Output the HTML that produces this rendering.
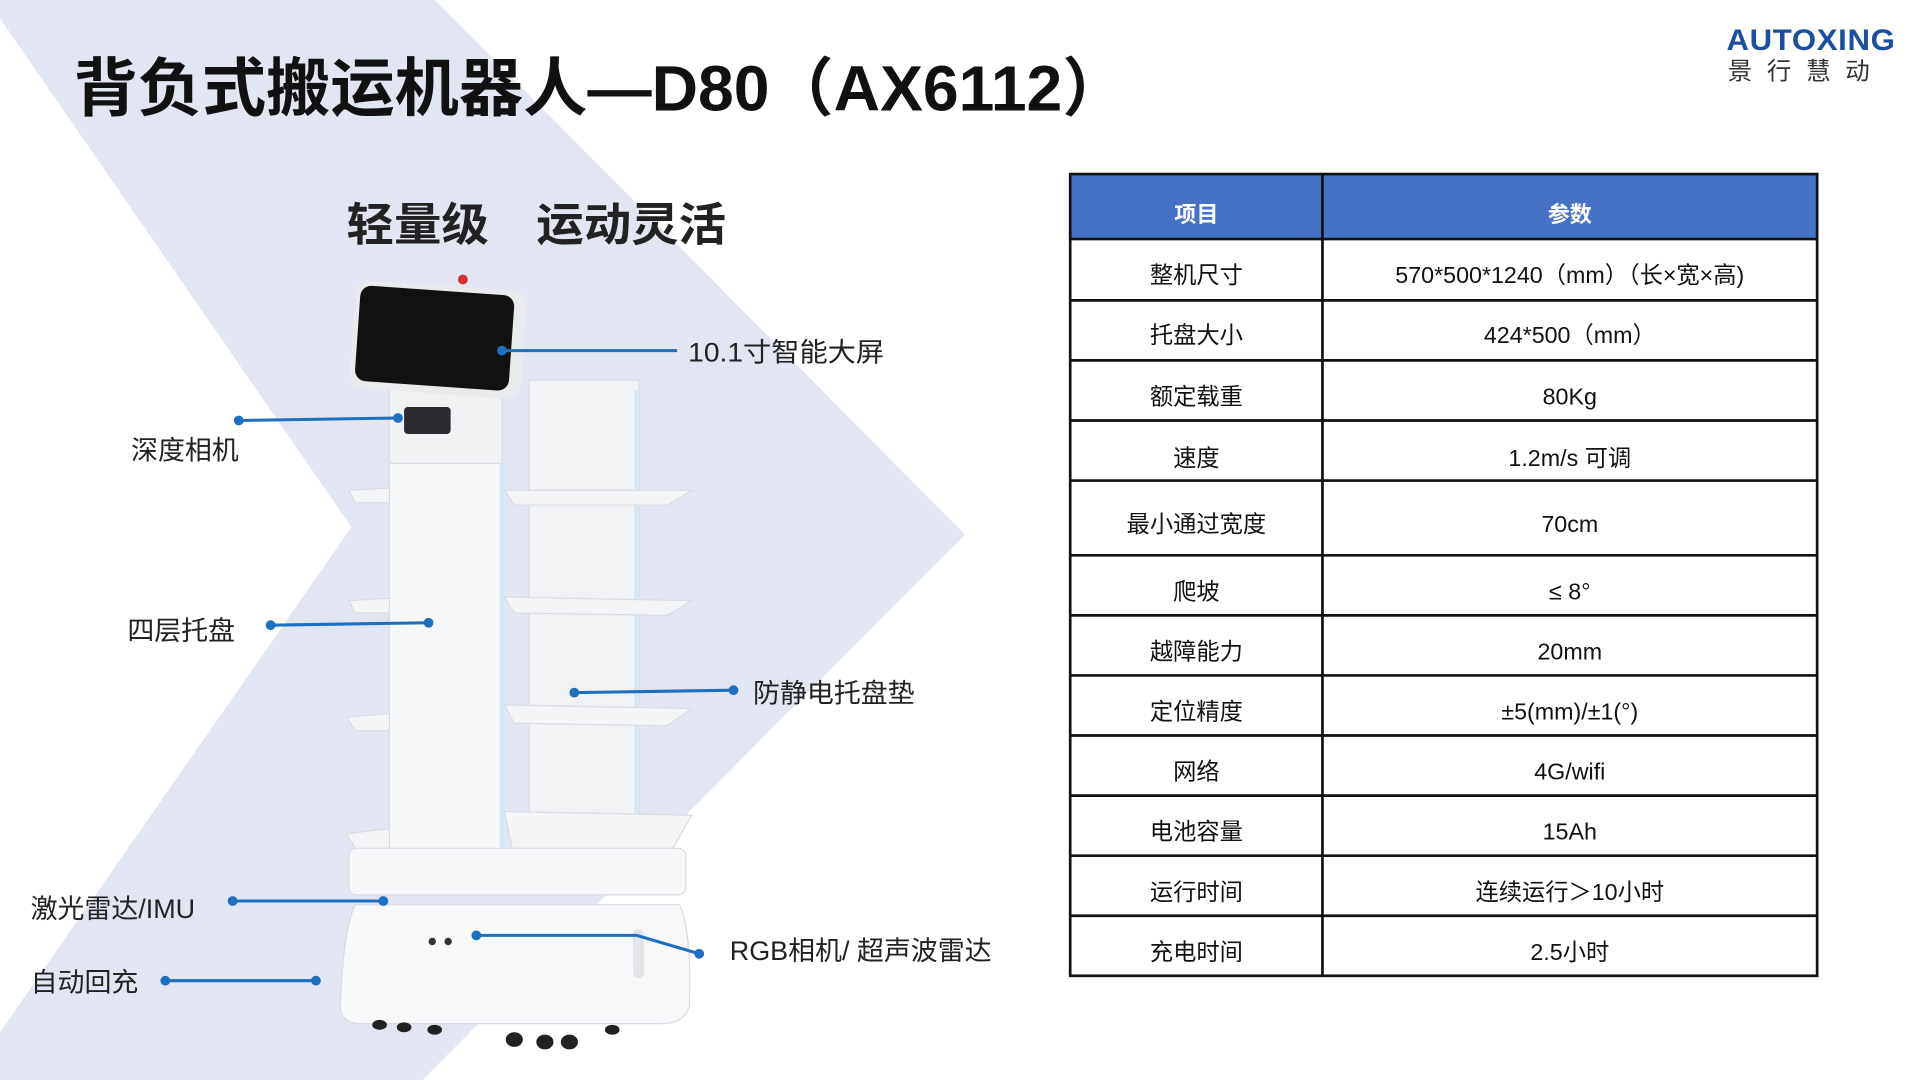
<!DOCTYPE html>
<html><head><meta charset="utf-8"><style>
html,body{margin:0;padding:0;background:#fff;width:1920px;height:1080px;overflow:hidden}
svg{display:block}
text{font-family:"Liberation Sans","Noto Sans CJK SC",sans-serif}
</style></head><body>
<svg width="1920" height="1080" viewBox="0 0 1568 881" preserveAspectRatio="none" xmlns="http://www.w3.org/2000/svg">
<rect width="1568" height="881" fill="#fff"/>
<polygon points="0,0 355,0 788,436 345,881 0,881 0,842 287,430 0,15" fill="#e2e5f2"/>
<!-- title -->
<text x="60" y="90" font-size="52" font-weight="bold" fill="#111" textLength="860" lengthAdjust="spacingAndGlyphs">背负式搬运机器人—D80（AX6112）</text>
<text x="283" y="196" font-size="37" font-weight="bold" fill="#222" textLength="310" lengthAdjust="spacingAndGlyphs">轻量级　运动灵活</text>
<!-- logo -->
<text x="1410" y="41" font-size="24" font-weight="bold" fill="#1b4fa0" letter-spacing="0.5" textLength="138" lengthAdjust="spacingAndGlyphs">AUTOXING</text>
<text x="1411" y="65" font-size="20" fill="#333" letter-spacing="12">景行慧动</text>
<!-- robot -->
<g stroke="#d8dbe0" stroke-width="1">
<rect x="432" y="310" width="90" height="395" fill="#f1f2f4"/>
<rect x="318" y="318" width="92" height="400" fill="#f6f7f8"/>
<rect x="408" y="320" width="3" height="395" fill="#cfe8f5" stroke="none"/>
<rect x="518" y="318" width="3" height="380" fill="#cfe8f5" stroke="none"/>
<polygon points="412,400 565,400 545,412 420,412" fill="#f4f5f6"/>
<polygon points="412,487 565,490 545,502 420,500" fill="#f4f5f6"/>
<polygon points="412,575 565,578 545,592 420,590" fill="#f4f5f6"/>
<polygon points="412,662 565,665 545,700 420,700" fill="#f4f5f6"/>
<polygon points="285,400 318,398 318,410 290,410" fill="#f4f5f6"/>
<polygon points="285,490 318,488 318,500 290,500" fill="#f4f5f6"/>
<polygon points="283,585 318,582 318,596 290,596" fill="#f4f5f6"/>
<polygon points="283,680 318,676 318,692 290,692" fill="#f4f5f6"/>
<rect x="285" y="692" width="275" height="38" rx="6" fill="#f7f8f9"/>
<path d="M290,738 L555,738 Q565,760 563,820 Q560,835 540,835 L295,835 Q278,835 278,820 Q280,760 290,738 Z" fill="#f8f9fa"/>
<rect x="318" y="318" width="92" height="60" fill="#f0f1f3"/>
</g>
<rect x="330" y="332" width="38" height="22" rx="3" fill="#2a2a2e"/>
<rect x="517" y="758" width="9" height="40" rx="4" fill="#e4e5e8"/>
<circle cx="353" cy="768" r="3" fill="#333"/><circle cx="366" cy="768" r="3" fill="#333"/>
<g fill="#222"><ellipse cx="310" cy="836" rx="6" ry="4"/><ellipse cx="330" cy="838" rx="6" ry="4"/><ellipse cx="355" cy="840" rx="6" ry="4"/><ellipse cx="420" cy="848" rx="7" ry="6"/><ellipse cx="445" cy="850" rx="7" ry="6"/><ellipse cx="465" cy="850" rx="7" ry="6"/><ellipse cx="500" cy="840" rx="6" ry="4"/></g>
<g transform="rotate(4 357 275)">
<rect x="288" y="233" width="140" height="88" rx="12" fill="#e9eaec"/>
<rect x="292" y="237" width="126" height="78" rx="9" fill="#111"/>
</g>
<circle cx="378" cy="228" r="4" fill="#d43030"/>
<!-- callouts -->
<g stroke="#1f6fbf" stroke-width="2.5" fill="none">
<line x1="410" y1="286" x2="553" y2="286"/>
<line x1="195" y1="343" x2="325" y2="341"/>
<line x1="221" y1="510" x2="350" y2="508"/>
<line x1="469" y1="565" x2="599" y2="563"/>
<line x1="190" y1="735" x2="313" y2="735"/>
<line x1="135" y1="800" x2="258" y2="800"/>
<polyline points="389,763 520,763 571,778"/>
</g>
<g fill="#1f6fbf">
<circle cx="410" cy="286" r="4"/><circle cx="195" cy="343" r="4"/><circle cx="325" cy="341" r="4"/>
<circle cx="221" cy="510" r="4"/><circle cx="350" cy="508" r="4"/>
<circle cx="469" cy="565" r="4"/><circle cx="599" cy="563" r="4"/>
<circle cx="190" cy="735" r="4"/><circle cx="313" cy="735" r="4"/>
<circle cx="135" cy="800" r="4"/><circle cx="258" cy="800" r="4"/>
<circle cx="389" cy="763" r="4"/><circle cx="571" cy="778" r="4"/>
</g>
<g font-size="22" fill="#222">
<text x="562" y="295" textLength="160" lengthAdjust="spacingAndGlyphs">10.1寸智能大屏</text>
<text x="107" y="375">深度相机</text>
<text x="104" y="522">四层托盘</text>
<text x="615" y="573">防静电托盘垫</text>
<text x="25" y="749">激光雷达/IMU</text>
<text x="25" y="809">自动回充</text>
<text x="596" y="783">RGB相机/ 超声波雷达</text>
</g>
<!-- table -->
<rect x="874" y="142" width="610" height="53" fill="#4472c4"/>
<g stroke="#111" stroke-width="2.2" fill="none">
<rect x="874" y="142" width="610" height="654"/>
<line x1="1080" y1="142" x2="1080" y2="796"/>
<line x1="874" y1="195" x2="1484" y2="195"/>
<line x1="874" y1="245" x2="1484" y2="245"/>
<line x1="874" y1="294" x2="1484" y2="294"/>
<line x1="874" y1="343" x2="1484" y2="343"/>
<line x1="874" y1="392" x2="1484" y2="392"/>
<line x1="874" y1="453" x2="1484" y2="453"/>
<line x1="874" y1="502" x2="1484" y2="502"/>
<line x1="874" y1="551" x2="1484" y2="551"/>
<line x1="874" y1="600" x2="1484" y2="600"/>
<line x1="874" y1="649" x2="1484" y2="649"/>
<line x1="874" y1="698" x2="1484" y2="698"/>
<line x1="874" y1="747" x2="1484" y2="747"/>
</g>
<g font-size="18" text-anchor="middle" fill="#fff" font-weight="bold">
<text x="977" y="181">项目</text><text x="1282" y="181">参数</text>
</g>
<g font-size="19" text-anchor="middle" fill="#111">
<text x="977" y="231">整机尺寸</text><text x="1282" y="231">570*500*1240（mm）（长×宽×高)</text>
<text x="977" y="280">托盘大小</text><text x="1282" y="280">424*500（mm）</text>
<text x="977" y="330">额定载重</text><text x="1282" y="330">80Kg</text>
<text x="977" y="380">速度</text><text x="1282" y="380">1.2m/s 可调</text>
<text x="977" y="434">最小通过宽度</text><text x="1282" y="434">70cm</text>
<text x="977" y="489">爬坡</text><text x="1282" y="489">≤ 8°</text>
<text x="977" y="538">越障能力</text><text x="1282" y="538">20mm</text>
<text x="977" y="587">定位精度</text><text x="1282" y="587">±5(mm)/±1(°)</text>
<text x="977" y="636">网络</text><text x="1282" y="636">4G/wifi</text>
<text x="977" y="685">电池容量</text><text x="1282" y="685">15Ah</text>
<text x="977" y="734">运行时间</text><text x="1282" y="734">连续运行＞10小时</text>
<text x="977" y="783">充电时间</text><text x="1282" y="783">2.5小时</text>
</g>
</svg>
</body></html>
